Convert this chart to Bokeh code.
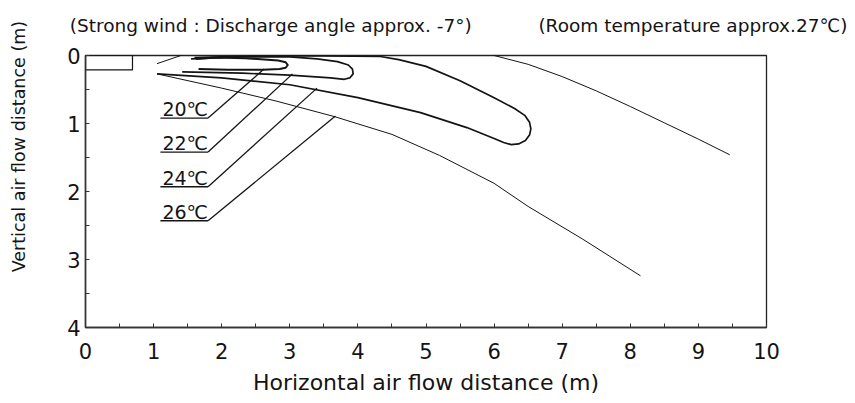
from bokeh.plotting import figure
from bokeh.models import Range1d, FixedTicker, ColumnDataSource, LinearAxis
from bokeh.core.properties import value
from bokeh.embed import file_html
from bokeh.resources import INLINE

# ---- data (metres) ----
x_ticks = [0, 1, 2, 3, 4, 5, 6, 7, 8, 9, 10]
y_ticks = [0, 1, 2, 3, 4]

# indoor unit outline (top-left box)
unit_x = [0.0, 0.69]
unit_y = [0.0, 0.21]

# 20 degC contour
c20_x = [1.66, 2.1, 2.6, 2.85, 2.94, 2.97, 2.94, 2.83, 2.35, 1.9, 1.62]
c20_y = [0.20, 0.21, 0.21, 0.20, 0.18, 0.14, 0.10, 0.075, 0.04, 0.03, 0.05]

# 22 degC contour
c22_x = [1.42, 2.3, 3.0, 3.6, 3.8, 3.88, 3.93, 3.92, 3.86, 3.7, 3.4, 3.0, 2.3, 1.55]
c22_y = [0.24, 0.26, 0.29, 0.33, 0.35, 0.33, 0.27, 0.20, 0.14, 0.09, 0.05, 0.02, 0.02, 0.05]

# 24 degC contour
c24_x = [1.05, 2.0, 3.0, 4.0, 4.92, 5.6, 6.0, 6.14, 6.25, 6.36, 6.46, 6.52, 6.54,
         6.52, 6.45, 6.3, 6.0, 5.5, 5.0, 4.6, 4.33, 3.5, 2.5, 1.6]
c24_y = [0.27, 0.33, 0.43, 0.62, 0.84, 1.06, 1.22, 1.28, 1.31, 1.30, 1.25, 1.17, 1.08,
         0.98, 0.88, 0.78, 0.62, 0.37, 0.16, 0.06, 0.015, 0.005, 0.005, 0.03]

# 26 degC limits (upper and lower)
c26u_x = [1.05, 1.4, 2.0, 3.0, 4.0, 5.0, 5.5, 6.0, 6.5, 7.0, 7.5, 8.0, 8.5, 9.0, 9.46]
c26u_y = [0.12, 0.0, -0.15, -0.3, -0.33, -0.22, -0.12, 0.0, 0.13, 0.31, 0.52, 0.75, 0.99, 1.23, 1.46]
c26l_x = [1.05, 2.0, 2.8, 3.66, 4.5, 5.2, 6.0, 6.5, 7.3, 8.15]
c26l_y = [0.27, 0.48, 0.67, 0.90, 1.16, 1.47, 1.88, 2.22, 2.70, 3.24]

# labels and leader lines
labels = ["20℃", "22℃", "24℃", "26℃"]
label_y = [0.92, 1.42, 1.93, 2.43]
label_x0 = [1.10, 1.10, 1.10, 1.10]
label_x1 = [1.80, 1.80, 1.80, 1.80]
leader_x = [2.62, 3.04, 3.40, 3.67]
leader_y = [0.20, 0.27, 0.48, 0.89]

# header notes, centred over these x positions
note_x = [2.72, 8.92]
notes = ["(Strong wind : Discharge angle approx. -7°)", "(Room temperature approx.27℃)"]

# y-axis title, centred at this depth like the original
ytitle_pos = [1.34]
ytitle = ["Vertical air flow distance (m)"]

FONT = "DejaVu Sans"
INK = "#141414"

p = figure(width=855, height=402, output_backend="svg", toolbar_location=None,
           x_range=Range1d(0, 10), y_range=Range1d(4, 0),
           min_border_left=85, min_border_right=89, min_border_top=55, min_border_bottom=75)
p.background_fill_color = "white"
p.border_fill_color = "white"
p.xgrid.visible = False
p.ygrid.visible = False
p.outline_line_color = "#222222"
p.outline_line_width = 1.3

p.xaxis.ticker = FixedTicker(ticks=x_ticks, minor_ticks=[t + 0.5 for t in x_ticks[:-1]])
p.yaxis.ticker = FixedTicker(ticks=y_ticks, minor_ticks=[t + 0.5 for t in y_ticks[:-1]])
for ax in (p.xaxis[0], p.yaxis[0]):
    ax.major_tick_in = 4
    ax.major_tick_out = 0
    ax.minor_tick_in = 4
    ax.minor_tick_out = 0
    ax.axis_line_color = "#333333"
    ax.axis_line_width = 1.5
    ax.major_tick_line_color = "#333333"
    ax.minor_tick_line_color = "#333333"
    ax.major_label_text_font = FONT
    ax.major_label_text_font_size = "21px"
    ax.major_label_text_color = INK
    ax.axis_label_text_font = FONT
    ax.axis_label_text_font_style = "normal"
    ax.axis_label_text_color = INK

p.xaxis.axis_label = "Horizontal air flow distance (m)"
p.xaxis.axis_label_text_font_size = "22px"
p.xaxis.major_label_standoff = 15
p.xaxis.axis_label_standoff = 8
p.yaxis.major_label_standoff = 5

# y-axis title drawn as a rotated label on a bare companion axis
yt = LinearAxis(ticker=FixedTicker(ticks=ytitle_pos),
                major_label_overrides=dict(zip(ytitle_pos, ytitle)),
                major_label_orientation="vertical",
                axis_line_color=None, major_tick_line_color=None, minor_tick_line_color=None,
                major_tick_in=0, major_tick_out=0, major_label_standoff=35,
                major_label_text_font=FONT, major_label_text_font_size="17.5px",
                major_label_text_color=INK)
p.add_layout(yt, "left")

# header notes drawn as labels of a bare axis above the frame
top = LinearAxis(ticker=FixedTicker(ticks=note_x),
                 major_label_overrides=dict(zip(note_x, notes)),
                 axis_line_color=None, major_tick_line_color=None, minor_tick_line_color=None,
                 major_tick_in=0, major_tick_out=0,
                 major_label_standoff=20, major_label_text_font=FONT,
                 major_label_text_font_size="18.5px", major_label_text_color=INK)
p.add_layout(top, "above")

# indoor unit box
p.quad(left=[unit_x[0]], right=[unit_x[1]], top=[unit_y[0]], bottom=[unit_y[1]],
       fill_alpha=0, line_color=INK, line_width=1.2)

# contours
p.line(c26u_x, c26u_y, line_color=INK, line_width=1.0)
p.line(c26l_x, c26l_y, line_color=INK, line_width=1.0)
p.line(c24_x, c24_y, line_color=INK, line_width=1.7, line_join="round")
p.line(c22_x, c22_y, line_color=INK, line_width=1.7, line_join="round")
p.line(c20_x, c20_y, line_color=INK, line_width=2.0, line_join="round")

# underlines and leaders
src = ColumnDataSource(dict(label=labels, y=label_y, x0=label_x0, x1=label_x1,
                            lx=leader_x, ly=leader_y))
p.segment(x0="x0", y0="y", x1="x1", y1="y", source=src, line_color=INK, line_width=1.3)
p.segment(x0="x1", y0="y", x1="lx", y1="ly", source=src, line_color=INK, line_width=1.3)
p.text(x="x0", y="y", text="label", source=src, x_offset=2, y_offset=2,
       text_font=value(FONT), text_font_size="19px", text_color=INK,
       text_baseline="bottom", text_align="left")

open("out.html", "w").write(file_html(p, INLINE))
